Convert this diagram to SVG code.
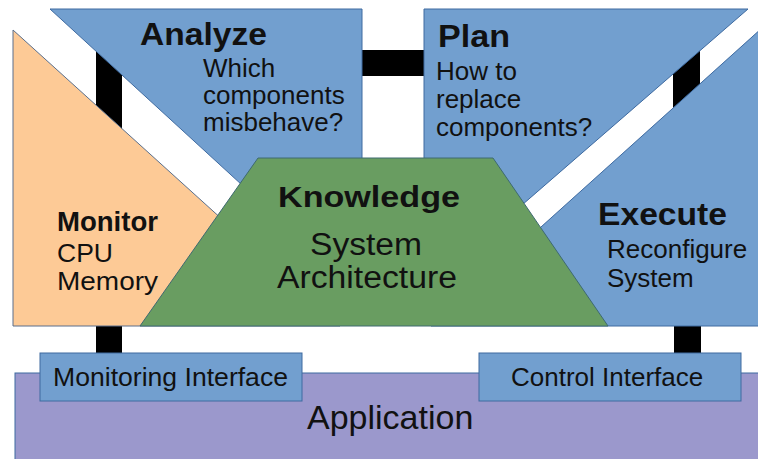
<svg xmlns="http://www.w3.org/2000/svg" width="758" height="459" viewBox="0 0 758 459">
<style>
.bg{fill:#ffffff}
.bar{fill:#000000}
.blue{fill:#729fcf;stroke:#3e6aa0;stroke-width:1}
.orange{fill:#fdca96;stroke:#5a6f8c;stroke-width:1}
.green{fill:#699d61;stroke:#3e6a70;stroke-width:1}
.purple{fill:#9b98cc;stroke:#3e6aa0;stroke-width:1}
text{font-family:"Liberation Sans",Arial,sans-serif;fill:#111111}
.t{font-weight:bold}
.r{font-size:26px}
</style>
<rect class="bg" x="0" y="0" width="758" height="459"/>
<g id="connectors">
  <rect class="bar" x="96" y="40" width="26" height="100"/>
  <rect class="bar" x="355" y="50" width="75" height="26"/>
  <rect class="bar" x="673" y="40" width="27" height="80"/>
  <rect class="bar" x="96" y="320" width="26" height="38"/>
  <rect class="bar" x="674" y="320" width="27" height="38"/>
</g>
<g id="analyze">
  <polygon class="blue" points="50,9 362,9 362,295"/>
  <text class="t" x="140" y="45" font-size="31" textLength="127" lengthAdjust="spacingAndGlyphs">Analyze</text>
  <text class="r" x="203" y="77">Which</text>
  <text class="r" x="203" y="104">components</text>
  <text class="r" x="203" y="131">misbehave?</text>
</g>
<g id="plan">
  <polygon class="blue" points="424,9 748,9 424,290"/>
  <text class="t" x="438" y="47" font-size="31" textLength="72" lengthAdjust="spacingAndGlyphs">Plan</text>
  <text class="r" x="436" y="80">How to</text>
  <text class="r" x="436" y="108">replace</text>
  <text class="r" x="436" y="136">components?</text>
</g>
<g id="monitor">
  <polygon class="orange" points="13,30 13,326 340,326"/>
  <text class="t" x="57" y="231" font-size="28" textLength="101" lengthAdjust="spacingAndGlyphs">Monitor</text>
  <text x="57" y="262" font-size="26.5">CPU</text>
  <text x="57" y="290" font-size="26.5" textLength="101" lengthAdjust="spacingAndGlyphs">Memory</text>
</g>
<g id="execute">
  <polygon class="blue" points="762,28 762,326 431,326"/>
  <text class="t" x="598" y="225" font-size="31" textLength="129" lengthAdjust="spacingAndGlyphs">Execute</text>
  <text class="r" x="607" y="258">Reconfigure</text>
  <text class="r" x="607" y="287">System</text>
</g>
<g id="knowledge">
  <polygon class="green" points="258,158 493,158 608,326 140,326"/>
  <text class="t" x="278" y="207" font-size="30" textLength="182" lengthAdjust="spacingAndGlyphs">Knowledge</text>
  <text x="310" y="255" font-size="31" textLength="112" lengthAdjust="spacingAndGlyphs">System</text>
  <text x="277" y="288" font-size="31" textLength="180" lengthAdjust="spacingAndGlyphs">Architecture</text>
</g>
<g id="application">
  <rect class="purple" x="15" y="373" width="760" height="100"/>
  <text x="307" y="429" font-size="34">Application</text>
</g>
<g id="monitoring-interface">
  <rect class="blue" x="40" y="353" width="262" height="48"/>
  <text class="r" x="53" y="386" textLength="235" lengthAdjust="spacingAndGlyphs">Monitoring Interface</text>
</g>
<g id="control-interface">
  <rect class="blue" x="479" y="353" width="262" height="48"/>
  <text class="r" x="511" y="386">Control Interface</text>
</g>
</svg>
